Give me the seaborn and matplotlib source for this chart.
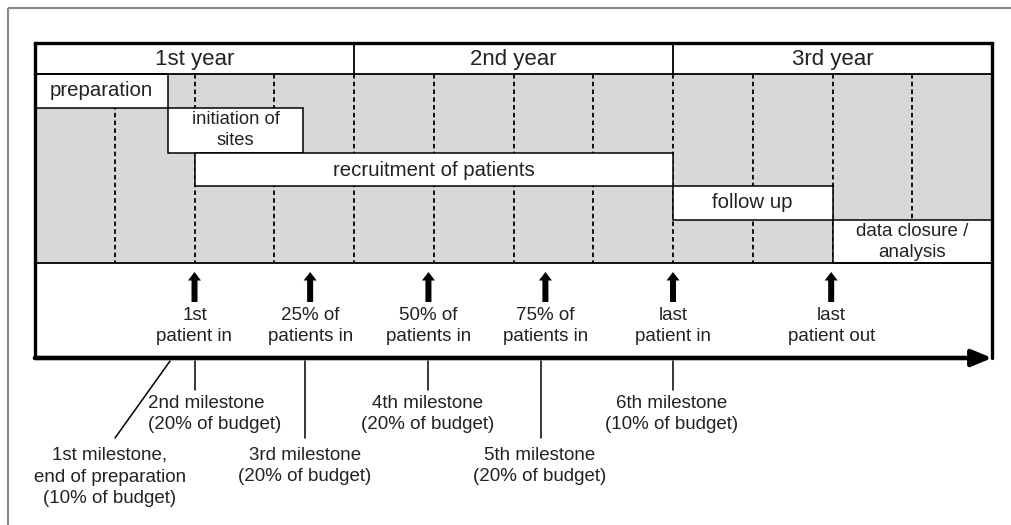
import matplotlib
matplotlib.use('agg')
import matplotlib.pyplot as plt
import seaborn as sns

# timeline in months (3 years, quarter grid)
years = ['1st year', '2nd year', '3rd year']
year_edges = [0, 12, 24, 36]
quarter_edges = list(range(0, 37, 3))

tasks = ['preparation', 'initiation of\nsites', 'recruitment of patients',
         'follow up', 'data closure /\nanalysis']
task_start = [0, 5, 6, 24, 30]
task_end = [5, 10.1, 24, 30, 36]

events = ['1st\npatient in', '25% of\npatients in', '50% of\npatients in',
          '75% of\npatients in', 'last\npatient in', 'last\npatient out']
event_month = [6, 10.35, 14.8, 19.2, 24, 29.95]

milestones = ['1st milestone,\nend of preparation\n(10% of budget)',
              '2nd milestone\n(20% of budget)',
              '3rd milestone\n(20% of budget)',
              '4th milestone\n(20% of budget)',
              '5th milestone\n(20% of budget)',
              '6th milestone\n(10% of budget)']
milestone_month = [5.08, 6, 10.17, 14.8, 19.05, 24]

# layout (pixel rows, y grows downwards)
W, H = 1011, 525
X0, X1 = 35, 992
PPM = (X1 - X0) / 36.0
def px(p):
    return (p - X0) / PPM

top, head_bot, grey_bot, axis_y = 43, 74, 263, 358
row_top = [74, 108, 153, 186, 220]
row_bot = [108, 153, 186, 220, 263]
row_text_y = [91, 130, 170, 203, 242]
row_font = [14.7, 13.2, 14.7, 14.7, 13.5]
ms_line_end = [438, 390, 438, 390, 438, 390]
ms_text_x = [px(110), px(148), px(305), px(428), px(540), px(672)]
ms_text_y = [477, 414, 466, 414, 466, 414]
ms_text_ha = ['center', 'left', 'center', 'center', 'center', 'center']

sns.set_theme(style='white')
plt.rcParams['font.family'] = ['Liberation Sans', 'DejaVu Sans']

fig = plt.figure(figsize=(W / 100, H / 100), dpi=100)
ax = fig.add_axes([0, 0, 1, 1])
ax.set_xlim(px(0), px(W))
ax.set_ylim(H, 0)
ax.axis('off')

# outer frame (only top and left visible)
ax.plot([px(8), px(W)], [8, 8], color='#8a8a8a', lw=1.6, solid_capstyle='butt')
ax.plot([px(8), px(8)], [8, H], color='#8a8a8a', lw=1.6, solid_capstyle='butt')

# grey schedule area with quarter grid
ax.fill_between([0, 36], head_bot, grey_bot, color='#d8d8d8', lw=0, zorder=1)
ax.vlines(quarter_edges[1:-1], head_bot, grey_bot, colors='black', lw=1.3,
          linestyles=(0, (2.5, 1.8)), zorder=2)

# task bars
for name, s, e, t, b, ty, fs in zip(tasks, task_start, task_end, row_top, row_bot,
                                     row_text_y, row_font):
    ax.barh((t + b) / 2, e - s, left=s, height=b - t, color='white',
            edgecolor='black', lw=1.1, zorder=3)
    ax.text((s + e) / 2, ty, name, ha='center', va='center',
            fontsize=fs, color='#222222', linespacing=1.35, zorder=4)

# year header
for i, y in enumerate(years):
    ax.text((year_edges[i] + year_edges[i + 1]) / 2, (top + head_bot) / 2 + 1, y,
            ha='center', va='center', fontsize=16, color='#222222')
ax.vlines(year_edges[1:-1], top, head_bot, colors='black', lw=1.3, zorder=4)
ax.hlines([head_bot, grey_bot], 0, 36, colors='black', lw=1.3, zorder=4)

# box frame
ax.plot([0, 36], [top, top], color='black', lw=2.4, zorder=5, solid_capstyle='projecting')
ax.plot([0, 0], [top, axis_y], color='black', lw=2.4, zorder=5)
ax.plot([36, 36], [top, axis_y], color='black', lw=2.4, zorder=5)

# time axis arrow
ax.annotate('', xy=(36, axis_y), xytext=(0, axis_y),
            arrowprops=dict(arrowstyle='-|>,head_length=1.2,head_width=0.5',
                            mutation_scale=10, lw=3.3, color='black',
                            shrinkA=0, shrinkB=0), zorder=6)

# event arrows and labels
for name, m in zip(events, event_month):
    ax.annotate('', xy=(m, 272), xytext=(m, 302),
                arrowprops=dict(arrowstyle='simple,head_length=0.85,head_width=1.3,tail_width=0.6',
                                mutation_scale=7.2, lw=0, color='black',
                                shrinkA=0, shrinkB=0))
    ax.text(m, 326, name, ha='center', va='center', fontsize=13.5,
            color='#222222', linespacing=1.35)

# budget milestones
for i, (name, m) in enumerate(zip(milestones, milestone_month)):
    if i == 0:
        ax.plot([m, px(115)], [axis_y + 3, ms_line_end[i]], color='black', lw=1.1)
    else:
        ax.plot([m, m], [axis_y + 3, ms_line_end[i]], color='black', lw=1.1)
    ax.text(ms_text_x[i], ms_text_y[i], name, ha=ms_text_ha[i], va='center',
            fontsize=13.5, color='#222222', linespacing=1.35)

fig.savefig('out.png', dpi=100)
